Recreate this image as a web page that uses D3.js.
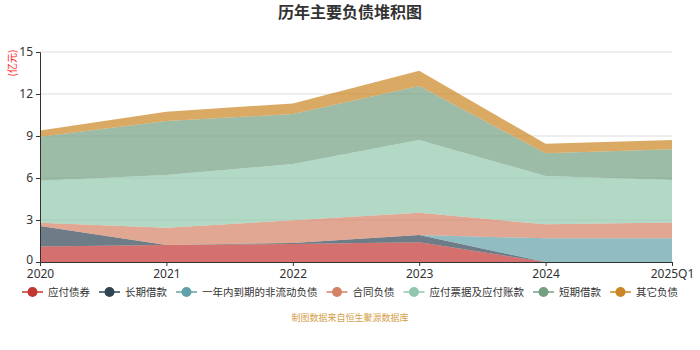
<!DOCTYPE html>
<html>
<head>
<meta charset="utf-8">
<script src="https://cdn.jsdelivr.net/npm/d3@7"></script>
<style>
  body { margin: 0; background: #fff; }
  text { font-family: "Noto Sans CJK SC", "Noto Sans", sans-serif; }
</style>
</head>
<body>
<svg id="chart" width="700" height="350"></svg>
<script>
// categories and series (亿元)
const years = ["2020", "2021", "2022", "2023", "2024", "2025Q1"];
const seriesNames = ["应付债券", "长期借款", "一年内到期的非流动负债", "合同负债", "应付票据及应付账款", "短期借款", "其它负债"];
const bonds      = [1.10, 1.21, 1.29, 1.41, 0.00, 0.00];
const longLoans  = [1.47, 0.00, 0.07, 0.52, 0.00, 0.00];
const currentNcl = [0.00, 0.00, 0.00, 0.00, 1.69, 1.69];
const contract   = [0.24, 1.24, 1.62, 1.59, 1.00, 1.14];
const payables   = [3.00, 3.76, 4.02, 5.19, 3.45, 3.03];
const shortLoans = [3.14, 3.86, 3.57, 3.86, 1.62, 2.19];
const others     = [0.45, 0.67, 0.76, 1.09, 0.69, 0.66];
const yTicks = [0, 3, 6, 9, 12, 15];

const colors = ["#c23531", "#2f4554", "#61a0a8", "#d48265", "#91c7ae", "#749f83", "#ca8622"];
const allSeries = [bonds, longLoans, currentNcl, contract, payables, shortLoans, others];

// build table for d3.stack
const table = years.map((y, i) => {
    const row = { year: y };
    seriesNames.forEach((n, k) => { row[n] = allSeries[k][i]; });
    return row;
});

const svg = d3.select("#chart");
const margin = { top: 52, right: 28, bottom: 88, left: 40 };
const width = 700 - margin.left - margin.right;
const height = 350 - margin.top - margin.bottom;

const x = d3.scalePoint().domain(years).range([0, width]);
const y = d3.scaleLinear().domain([0, 15]).range([height, 0]);

// title
svg.append("text")
    .attr("x", 350).attr("y", 18)
    .attr("text-anchor", "middle")
    .attr("font-size", "16px")
    .attr("font-weight", "bold")
    .attr("fill", "#333")
    .text("历年主要负债堆积图");

const g = svg.append("g").attr("transform", "translate(" + margin.left + "," + margin.top + ")");

// grid lines
g.append("g")
    .selectAll("line")
    .data(yTicks.filter(d => d > 0))
    .enter()
    .append("line")
    .attr("x1", 0).attr("x2", width)
    .attr("y1", d => y(d)).attr("y2", d => y(d))
    .attr("stroke", "#dcdcdc")
    .attr("stroke-width", 1);

// stacked areas
const stacked = d3.stack().keys(seriesNames)(table);
const area = d3.area()
    .x(d => x(d.data.year))
    .y0(d => y(d[0]))
    .y1(d => y(d[1]));

g.append("g")
    .selectAll("path")
    .data(stacked)
    .enter()
    .append("path")
    .attr("d", area)
    .attr("fill", (d, i) => colors[i])
    .attr("fill-opacity", 0.7);

// y axis
const yAxis = g.append("g")
    .call(d3.axisLeft(y).tickValues(yTicks).tickSize(4).tickPadding(3));
yAxis.select(".domain").attr("stroke", "#333");
yAxis.selectAll(".tick line").attr("stroke", "#333");
yAxis.selectAll("text").attr("font-size", "12px").attr("fill", "#333")
    .style("font-family", "'Noto Sans', sans-serif");
// keep the 0 label clear of the first x label
yAxis.selectAll(".tick text").filter(d => d === 0).attr("dy", "0.1em");

// x axis
const xAxis = g.append("g")
    .attr("transform", "translate(0," + height + ")")
    .call(d3.axisBottom(x).tickSize(4).tickPadding(3));
xAxis.select(".domain").attr("stroke", "#333");
xAxis.selectAll(".tick line").attr("stroke", "#333");
xAxis.selectAll("text").attr("font-size", "12px").attr("fill", "#333")
    .style("font-family", "'Noto Sans', sans-serif");

// unit label
svg.append("text")
    .attr("transform", "translate(16,63) rotate(-90)")
    .attr("text-anchor", "middle")
    .attr("font-size", "10px")
    .attr("fill", "#ff2020")
    .text("(亿元)");

// legend
const legend = svg.append("g").attr("transform", "translate(0,292)");
const items = legend.selectAll("g")
    .data(seriesNames)
    .enter()
    .append("g");
items.append("line")
    .attr("x1", 0).attr("x2", 21).attr("y1", 0).attr("y2", 0)
    .attr("stroke", (d, i) => colors[i]).attr("stroke-width", 1.5);
items.append("circle")
    .attr("cx", 10.5).attr("cy", 0).attr("r", 5)
    .attr("fill", (d, i) => colors[i]);
items.append("text")
    .attr("x", 26).attr("y", 4)
    .attr("font-size", "10.5px")
    .attr("fill", "#333")
    .text(d => d);

let widths = [];
items.each(function () {
    widths.push(26 + this.querySelector("text").getComputedTextLength());
});
const gap = 9;
const total = d3.sum(widths) + gap * (widths.length - 1);
let pos = (700 - total) / 2;
items.attr("transform", (d, i) => {
    const t = "translate(" + pos + ",0)";
    pos += widths[i] + gap;
    return t;
});

// source
svg.append("text")
    .attr("x", 350).attr("y", 321)
    .attr("text-anchor", "middle")
    .attr("font-size", "9px")
    .attr("fill", "#d4a04a")
    .text("制图数据来自恒生聚源数据库");
</script>
</body>
</html>
